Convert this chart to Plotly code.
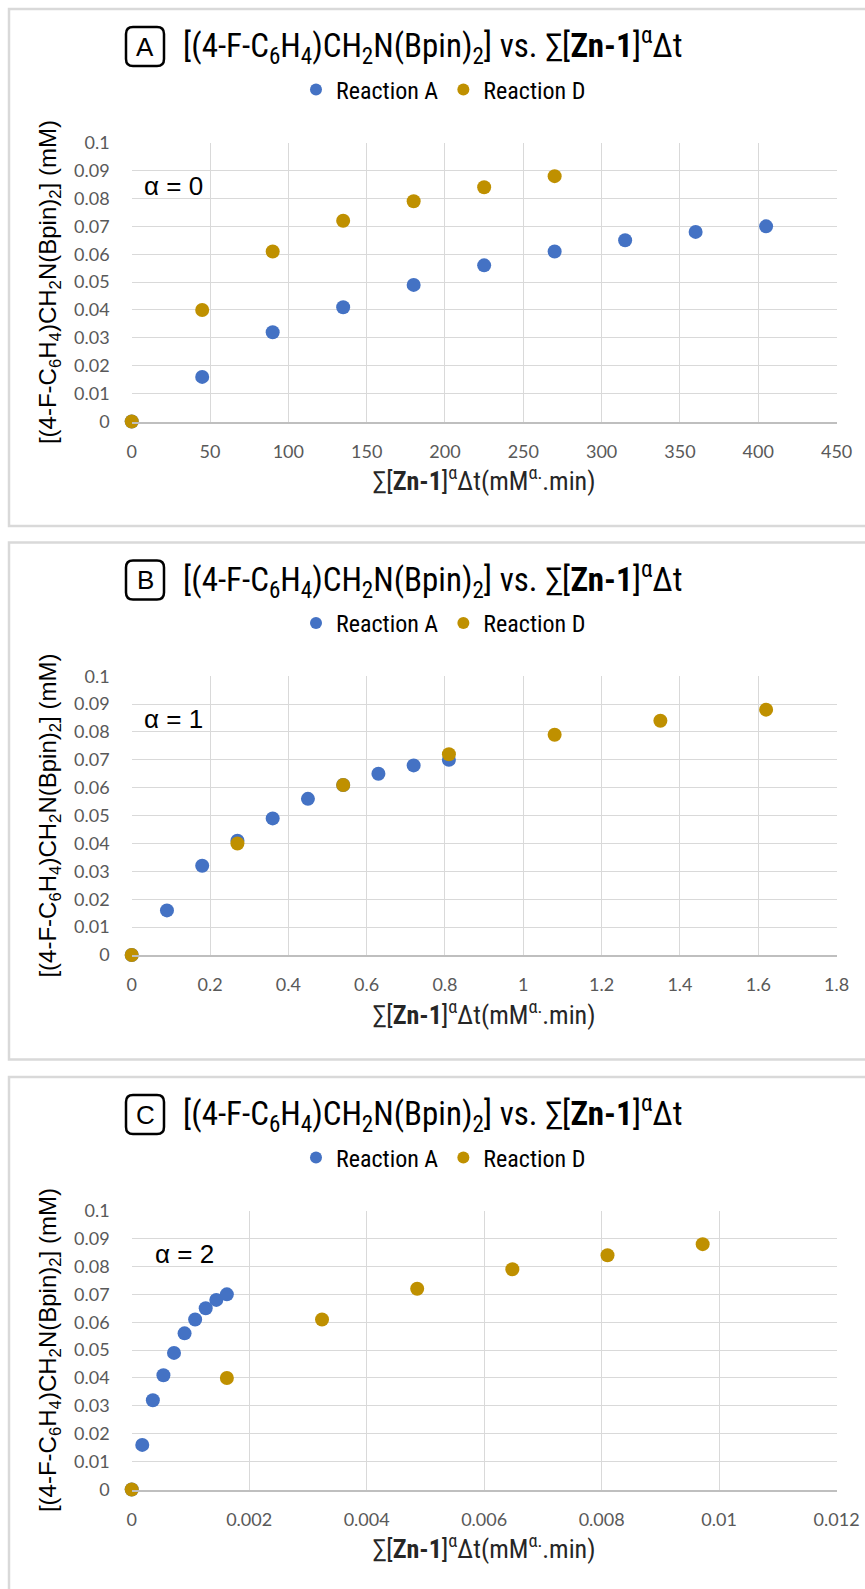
import plotly.graph_objects as go

W, H = 865, 1589

# ---------------- data ----------------
series_names = ["Reaction A", "Reaction D"]
y_reaction_a = [0, 0.016, 0.032, 0.041, 0.049, 0.056, 0.061, 0.065, 0.068, 0.070]
y_reaction_d = [0, 0.040, 0.061, 0.072, 0.079, 0.084, 0.088]

x_a_alpha0 = [0, 45, 90, 135, 180, 225, 270, 315, 360, 405]
x_d_alpha0 = [0, 45, 90, 135, 180, 225, 270]
x_a_alpha1 = [0, 0.09, 0.18, 0.27, 0.36, 0.45, 0.54, 0.63, 0.72, 0.81]
x_d_alpha1 = [0, 0.27, 0.54, 0.81, 1.08, 1.35, 1.62]
x_a_alpha2 = [0, 0.00018, 0.00036, 0.00054, 0.00072, 0.0009, 0.00108, 0.00126, 0.00144, 0.00162]
x_d_alpha2 = [0, 0.00162, 0.00324, 0.00486, 0.00648, 0.0081, 0.00972]

y_tick_vals = [0, 0.01, 0.02, 0.03, 0.04, 0.05, 0.06, 0.07, 0.08, 0.09, 0.1]
y_tick_text = ["0", "0.01", "0.02", "0.03", "0.04", "0.05", "0.06", "0.07", "0.08", "0.09", "0.1"]
x_tick_vals_alpha0 = [0, 50, 100, 150, 200, 250, 300, 350, 400, 450]
x_tick_text_alpha0 = ["0", "50", "100", "150", "200", "250", "300", "350", "400", "450"]
x_tick_vals_alpha1 = [0, 0.2, 0.4, 0.6, 0.8, 1.0, 1.2, 1.4, 1.6, 1.8]
x_tick_text_alpha1 = ["0", "0.2", "0.4", "0.6", "0.8", "1", "1.2", "1.4", "1.6", "1.8"]
x_tick_vals_alpha2 = [0, 0.002, 0.004, 0.006, 0.008, 0.01, 0.012]
x_tick_text_alpha2 = ["0", "0.002", "0.004", "0.006", "0.008", "0.01", "0.012"]

panel_letters = ["A", "B", "C"]
alpha_labels = ["α = 0", "α = 1", "α = 2"]
title_text = ("[(4-F-C<sub>6</sub>H<sub>4</sub>)CH<sub>2</sub>N(Bpin)<sub>2</sub>] vs. "
              "∑[<b>Zn-1</b>]<sup>α</sup>Δt")
x_title_text = "∑[<b>Zn-1</b>]<sup>α</sup>Δt(mM<sup>α.</sup>.min)"
y_title_text = "[(4-F-C<sub>6</sub>H<sub>4</sub>)CH<sub>2</sub>N(Bpin)<sub>2</sub>] (mM)"

# ---------------- style ----------------
BLUE = "#4472C4"
GOLD = "#BF9000"
GRID = "#D9D9D9"
TICK_COL = "#595959"
NARROW = "Liberation Sans Narrow, Arial Narrow, Roboto Condensed, Liberation Sans, Arial"
REG = "Liberation Sans, Arial, sans-serif"
TICKF = "Lato, Carlito, Calibri, sans-serif"

PLOT_L, PLOT_R = 131.7, 836.6
PLOT_H = 278.8
OFFS = [0.0, 533.5, 1068.0]
PLOT_TOP0 = 142.7


def fx(px):
    return px / W


def fy(py):
    return 1 - py / H


panels = [
    (x_a_alpha0, x_d_alpha0, [0, 450], x_tick_vals_alpha0, x_tick_text_alpha0),
    (x_a_alpha1, x_d_alpha1, [0, 1.8], x_tick_vals_alpha1, x_tick_text_alpha1),
    (x_a_alpha2, x_d_alpha2, [0, 0.012], x_tick_vals_alpha2, x_tick_text_alpha2),
]

fig = go.Figure()
shapes = []
annotations = []
layout = {}

for i, (xa, xd, xr, xtv, xtt) in enumerate(panels):
    off = OFFS[i]
    sfx = "" if i == 0 else str(i + 1)
    xname, yname = "x" + sfx, "y" + sfx
    legname = "legend" + sfx
    fig.add_trace(go.Scatter(x=xa, y=y_reaction_a, mode="markers", name=series_names[0],
                             marker=dict(color=BLUE, size=14), xaxis=xname, yaxis=yname,
                             legend=legname, cliponaxis=False))
    fig.add_trace(go.Scatter(x=xd, y=y_reaction_d, mode="markers", name=series_names[1],
                             marker=dict(color=GOLD, size=14), xaxis=xname, yaxis=yname,
                             legend=legname, cliponaxis=False))
    top = PLOT_TOP0 + off
    layout["xaxis" + sfx] = dict(
        domain=[fx(PLOT_L), fx(PLOT_R)], anchor=yname, range=xr,
        tickvals=xtv, ticktext=xtt, showgrid=True, gridcolor=GRID, gridwidth=1.3,
        zeroline=False, showline=True, linecolor="#BFBFBF", linewidth=1.5,
        ticks="", ticklabelstandoff=13, automargin=False,
        tickfont=dict(family=TICKF, size=18, color=TICK_COL),
        title=dict(text=x_title_text, font=dict(family=NARROW, size=26, color="#262626"),
                   standoff=11),
    )
    layout["yaxis" + sfx] = dict(
        domain=[fy(top + PLOT_H), fy(top)], anchor=xname, range=[0, 0.1],
        tickvals=y_tick_vals, ticktext=y_tick_text, showgrid=True, gridcolor=GRID,
        gridwidth=1.3, zeroline=False, showline=False, ticks="", ticklabelstandoff=21,
        automargin=False, tickfont=dict(family=TICKF, size=18, color=TICK_COL),
        title=dict(text=y_title_text, font=dict(family=REG, size=24, color="black"),
                   standoff=10),
    )
    layout[legname] = dict(
        orientation="h", x=fx(296), xanchor="left", y=fy(90 + off), yanchor="middle",
        font=dict(family=NARROW, size=24, color="black"), bgcolor="rgba(0,0,0,0)",
        itemsizing="constant", tracegroupgap=0,
    )
    # panel border
    y_bottom = 526 + off if i < 2 else H + 5
    shapes.append(dict(type="rect", xref="paper", yref="paper", x0=fx(9), x1=fx(W + 5),
                       y0=fy(9 + off), y1=fy(y_bottom), line=dict(color=GRID, width=2.5),
                       fillcolor="rgba(0,0,0,0)", layer="below"))
    # rounded badge
    bx0, bx1, by0, by1, r = 126, 164, 27 + off, 66 + off, 7
    path = (f"M {fx(bx0 + r)},{fy(by0)} L {fx(bx1 - r)},{fy(by0)} "
            f"Q {fx(bx1)},{fy(by0)} {fx(bx1)},{fy(by0 + r)} "
            f"L {fx(bx1)},{fy(by1 - r)} Q {fx(bx1)},{fy(by1)} {fx(bx1 - r)},{fy(by1)} "
            f"L {fx(bx0 + r)},{fy(by1)} Q {fx(bx0)},{fy(by1)} {fx(bx0)},{fy(by1 - r)} "
            f"L {fx(bx0)},{fy(by0 + r)} Q {fx(bx0)},{fy(by0)} {fx(bx0 + r)},{fy(by0)} Z")
    shapes.append(dict(type="path", xref="paper", yref="paper", path=path,
                       line=dict(color="black", width=2.5)))
    annotations.append(dict(text=panel_letters[i], xref="paper", yref="paper",
                            x=fx((bx0 + bx1) / 2), y=fy((by0 + by1) / 2), showarrow=False,
                            xanchor="center", yanchor="middle",
                            font=dict(family=REG, size=26, color="black")))
    annotations.append(dict(text=title_text, xref="paper", yref="paper", x=fx(181),
                            y=fy(46 + off), showarrow=False, xanchor="left", yanchor="middle",
                            font=dict(family=NARROW, size=33, color="black")))
    annotations.append(dict(text=alpha_labels[i], xref="paper", yref="paper",
                            x=fx(142 if i < 2 else 153), y=fy(top + 43), showarrow=False,
                            xanchor="left", yanchor="middle",
                            font=dict(family=REG, size=26, color="black")))

fig.update_layout(
    width=W, height=H, margin=dict(l=0, r=0, t=0, b=0),
    paper_bgcolor="white", plot_bgcolor="white", template="none",
    shapes=shapes, annotations=annotations, **layout,
)

fig.write_html("out.html", config={"displayModeBar": False},
               post_script="document.body.style.margin='0';")
